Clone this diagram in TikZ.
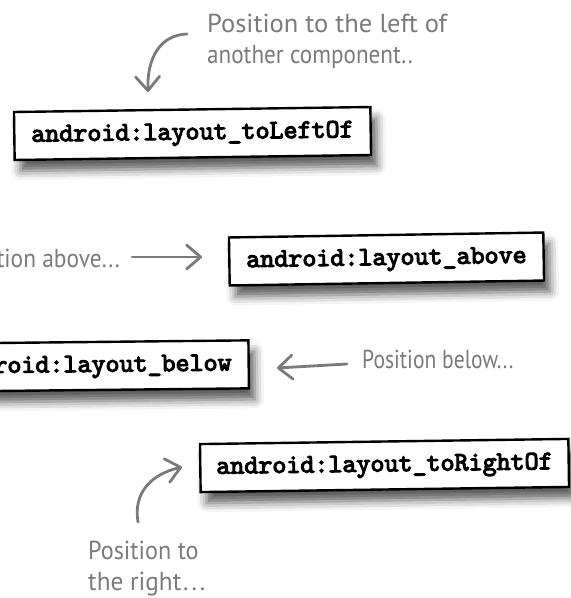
\documentclass[tikz,border=0pt]{standalone}
\usepackage{fontspec}
\newfontfamily\handfont{PT Sans}
\newfontfamily\codefont{lmmono10-regular.otf}[FakeBold=4]
\usetikzlibrary{arrows.meta,shadows.blur}
\definecolor{hand}{RGB}{122,122,122}
\newcommand{\hsq}[2][0.85]{\scalebox{#1}[1]{#2}}
\tikzset{
  codebox/.style={draw=black, line width=2.4pt, fill=white,
    font=\codefont\fontsize{26.7}{30}\selectfont,
    inner xsep=17pt, inner ysep=13pt, text height=17pt, text depth=5pt,
    blur shadow={shadow xshift=6pt, shadow yshift=-11pt, shadow blur radius=9pt, shadow opacity=65}},
  note/.style={text=hand, font=\handfont\fontsize{26}{31}\selectfont, inner sep=0pt, align=left},
  pointer/.style={draw=hand, line width=2.8pt, line cap=round, line join=round,
    -{Straight Barb[length=14pt,width=24pt,round]}},
}
\begin{document}
\begin{tikzpicture}[x=1pt,y=1pt]
\useasboundingbox (0,0) rectangle (571,-598);
\clip (0,0) rectangle (571,-598);

% boxes
\node[codebox, rotate=0.8] (left)  at (192.5,-133.5) {android:layout\_toLeftOf};
\node[codebox, rotate=0.9] (above) at (386.5,-259) {android:layout\_above};
\node[codebox, rotate=0.6] (below) at (91.5,-366) {android:layout\_below};
\node[codebox, rotate=0.8, inner xsep=16pt] (right) at (384.5,-465.5) {android:layout\_toRightOf};

% notes
\node[note, anchor=base west] (nleft) at (207,-63) {\hsq[1.02]{Position to the left of}\\\hsq[0.89]{another component..}};
\node[note, anchor=base east] (nabove) at (120,-267) {\hsq[0.9]{Position above...}};
\node[note, anchor=base west] (nbelow) at (362,-368) {\hsq[0.83]{Position below...}};
\node[note, anchor=base west] (nright) at (88,-590) {\hsq[0.93]{Position to}\\\hsq[0.97]{the right\kern2pt.\kern3pt.\kern3pt.}};

% pointers
\coordinate (a1s) at (187,-34);  \coordinate (a1e) at (148,-92);
\coordinate (a2s) at (132,-257); \coordinate (a2e) at (202,-257);
\coordinate (a3s) at (347,-364); \coordinate (a3e) at (277,-368);
\coordinate (a4s) at (138,-522); \coordinate (a4e) at (182,-467);
\draw[pointer] (a1s) .. controls (160,-35) and (147,-58) .. (a1e);
\draw[pointer] (a2s) -- (a2e);
\draw[pointer] (a3s) -- (a3e);
\draw[pointer] (a4s) .. controls (133,-492) and (152,-474) .. (a4e);
\end{tikzpicture}
\end{document}
